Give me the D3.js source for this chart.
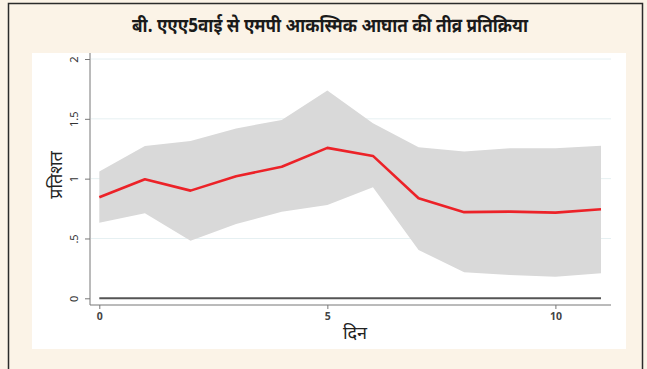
<!DOCTYPE html>
<html>
<head>
<meta charset="utf-8">
<script src="https://cdn.jsdelivr.net/npm/d3@7"></script>
<style>
  html, body { margin: 0; padding: 0; background: #fbf3e7; }
  svg { display: block; }
</style>
</head>
<body>
<svg id="chart" width="647" height="369"></svg>
<script>
// Impulse response of the money-market rate to an AAA 5-year shock
const days = [0, 1, 2, 3, 4, 5, 6, 7, 8, 9, 10, 11];
const response = [0.845, 0.995, 0.90, 1.02, 1.10, 1.257, 1.19, 0.836, 0.72, 0.724, 0.716, 0.744];
const upperBand = [1.06, 1.273, 1.315, 1.42, 1.49, 1.736, 1.463, 1.262, 1.226, 1.254, 1.254, 1.276];
const lowerBand = [0.632, 0.71, 0.48, 0.62, 0.724, 0.78, 0.928, 0.404, 0.217, 0.195, 0.18, 0.21];
const yTicks = [0, 0.5, 1, 1.5, 2];
const yTickLabels = ["0", ".5", "1", "1.5", "2"];
const xTicks = [0, 5, 10];

const titleText = "बी. एएए5वाई से एमपी आकस्मिक आघात की तीव्र प्रतिक्रिया";
const yTitle = "प्रतिशत";
const xTitle = "दिन";

const svg = d3.select("#chart");
const font = "'Noto Sans', 'Liberation Sans', sans-serif";

// outer frame
svg.append("rect").attr("x", 8.5).attr("y", 3.5).attr("width", 634).attr("height", 370)
  .attr("fill", "#fbf3e7").attr("stroke", "#2b2b2b").attr("stroke-width", 1.5);

// white plot panel
svg.append("rect").attr("x", 32).attr("y", 53).attr("width", 594).attr("height", 296)
  .attr("fill", "#ffffff");

svg.append("text").attr("x", 330).attr("y", 32).attr("text-anchor", "middle")
  .attr("font-family", font).attr("font-weight", "bold").attr("font-size", 19)
  .attr("textLength", 396).attr("lengthAdjust", "spacingAndGlyphs")
  .attr("fill", "#1a1a1a").text(titleText);

const x = d3.scaleLinear().domain([0, 11]).range([99.3, 601]);
const y = d3.scaleLinear().domain([0, 2]).range([298.3, 59]);

// gridlines
svg.append("g").selectAll("line").data(yTicks.slice(1)).join("line")
  .attr("x1", 91).attr("x2", 611)
  .attr("y1", d => y(d)).attr("y2", d => y(d))
  .attr("stroke", "#e6f0f2").attr("stroke-width", 1);

// confidence band
const area = d3.area().x((d, i) => x(days[i])).y0((d, i) => y(lowerBand[i])).y1((d, i) => y(upperBand[i]));
svg.append("path").datum(days).attr("d", area).attr("fill", "#d9d9d9");

// zero reference line
svg.append("line").attr("x1", x(0)).attr("x2", x(11)).attr("y1", y(0)).attr("y2", y(0))
  .attr("stroke", "#555555").attr("stroke-width", 2);

// response line
const line = d3.line().x((d, i) => x(days[i])).y((d, i) => y(response[i]));
svg.append("path").datum(days).attr("d", line).attr("fill", "none")
  .attr("stroke", "#ec2228").attr("stroke-width", 2.6).attr("stroke-linejoin", "round");

// y axis
const yAxis = svg.append("g").attr("transform", "translate(90,0)")
  .call(d3.axisLeft(y).tickValues(yTicks).tickSize(5).tickFormat((d, i) => yTickLabels[i]));
yAxis.select(".domain").attr("d", "M0,53V305").attr("stroke", "#777");
yAxis.selectAll(".tick line").attr("stroke", "#777");
yAxis.selectAll(".tick text")
  .attr("transform", "rotate(-90)").attr("x", 0).attr("y", -16).attr("dy", "0.35em")
  .attr("text-anchor", "middle")
  .attr("font-family", font).attr("font-size", 11).attr("fill", "#333");

// x axis
const xAxis = svg.append("g").attr("transform", "translate(0,305)")
  .call(d3.axisBottom(x).tickValues(xTicks).tickSize(4).tickFormat(d3.format("d")));
xAxis.select(".domain").attr("d", "M90,0H611").attr("stroke", "#777");
xAxis.selectAll(".tick line").attr("stroke", "#777");
xAxis.selectAll(".tick text").attr("y", 8)
  .attr("font-family", font).attr("font-size", 10.5).attr("font-weight", "bold").attr("fill", "#444");

// axis titles
svg.append("text").attr("transform", "translate(62,175) rotate(-90)").attr("text-anchor", "middle")
  .attr("font-family", font).attr("font-size", 18).attr("fill", "#222").text(yTitle);
svg.append("text").attr("x", 355).attr("y", 339).attr("text-anchor", "middle")
  .attr("font-family", font).attr("font-size", 18).attr("fill", "#222").text(xTitle);
</script>
</body>
</html>
